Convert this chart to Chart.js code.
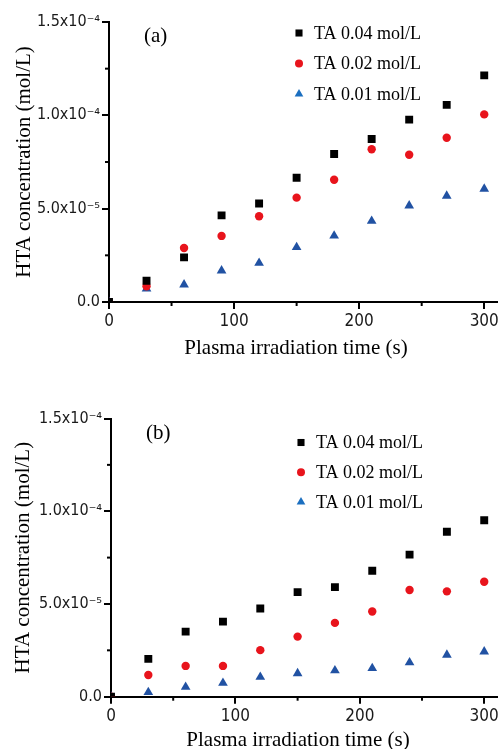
<!DOCTYPE html>
<html>
<head>
<meta charset="utf-8">
<script src="https://cdn.jsdelivr.net/npm/chart.js@4/dist/chart.umd.min.js"></script>
<style>
  html, body { margin: 0; padding: 0; background: #fff; }
  #wrap { position: relative; width: 503px; height: 749px; overflow: hidden; }
  .box { position: absolute; left: 0; width: 503px; }
</style>
</head>
<body>
<div id="wrap">
  <div class="box" style="top:0;height:375px"><canvas id="chartA"></canvas></div>
  <div class="box" style="top:375px;height:374px"><canvas id="chartB"></canvas></div>
</div>
<script>
// ---- data ----
const timeS = [0, 30, 60, 90, 120, 150, 180, 210, 240, 270, 300];
const seriesLabels = ['TA 0.04 mol/L', 'TA 0.02 mol/L', 'TA 0.01 mol/L'];
// panel (a)
const a_ta004 = [0, 1.14e-5, 2.39e-5, 4.64e-5, 5.28e-5, 6.66e-5, 7.93e-5, 8.73e-5, 9.77e-5, 1.056e-4, 1.214e-4];
const a_ta002 = [0, 0.84e-5, 2.89e-5, 3.54e-5, 4.59e-5, 5.59e-5, 6.55e-5, 8.18e-5, 7.89e-5, 8.80e-5, 1.005e-4];
const a_ta001 = [0, 0.71e-5, 0.93e-5, 1.68e-5, 2.09e-5, 2.93e-5, 3.55e-5, 4.34e-5, 5.16e-5, 5.68e-5, 6.06e-5];
// panel (b)
const b_ta004 = [0, 2.04e-5, 3.51e-5, 4.05e-5, 4.76e-5, 5.64e-5, 5.91e-5, 6.79e-5, 7.66e-5, 8.89e-5, 9.51e-5];
const b_ta002 = [0, 1.17e-5, 1.66e-5, 1.66e-5, 2.51e-5, 3.24e-5, 3.98e-5, 4.59e-5, 5.75e-5, 5.68e-5, 6.20e-5];
const b_ta001 = [0, 0.24e-5, 0.52e-5, 0.74e-5, 1.06e-5, 1.26e-5, 1.41e-5, 1.53e-5, 1.84e-5, 2.25e-5, 2.43e-5];
// axes
const xTickLabels = ['0', '100', '200', '300'];
const yTickLabels = ['0.0', '5.0x10\u207B\u2075', '1.0x10\u207B\u2074', '1.5x10\u207B\u2074'];
const xTitle = 'Plasma irradiation time (s)';
const yTitle = 'HTA concentration (mol/L)';

const SERIF = '"Liberation Serif", "Times New Roman", serif';
const TICKFONT = '"Liberation Sans Narrow", "DejaVu Sans Condensed", "Liberation Sans", Arial, sans-serif';

const styles = [
  { pointStyle: 'rect', color: '#000000', legendColor: '#000000', radius: 5.6, legendRadius: 5.0 },
  { pointStyle: 'circle', color: '#e8141c', legendColor: '#e8141c', radius: 4.2, legendRadius: 4.0 },
  { pointStyle: 'triangle', color: '#2152a3', legendColor: '#1b6fc0', radius: 5.6, legendRadius: 5.0 }
];

const decorPlugin = {
  id: 'decor',
  afterDraw(chart, args, o) {
    const { ctx, chartArea: ca, scales } = chart;
    const xs = scales.x, ys = scales.y;
    ctx.save();
    // minor ticks (shorter)
    ctx.strokeStyle = '#000';
    ctx.lineWidth = 2;
    xs.ticks.forEach((t, i) => {
      if (i % 2) {
        const px = xs.getPixelForValue(t.value);
        ctx.beginPath(); ctx.moveTo(px, ca.bottom); ctx.lineTo(px, ca.bottom + 4); ctx.stroke();
      }
    });
    ys.ticks.forEach((t, i) => {
      if (i % 2) {
        const py = ys.getPixelForValue(t.value);
        ctx.beginPath(); ctx.moveTo(ca.left - 4, py); ctx.lineTo(ca.left, py); ctx.stroke();
      }
    });
    // axis titles
    ctx.fillStyle = '#000';
    ctx.font = '21px ' + SERIF;
    ctx.textAlign = 'center';
    ctx.textBaseline = 'middle';
    ctx.fillText(o.xTitle, ca.left + o.xTitleDx, ca.bottom + o.xTitleDy);
    ctx.save();
    ctx.translate(o.yTitleX, (ca.top + ca.bottom) / 2);
    ctx.rotate(-Math.PI / 2);
    ctx.fillText(o.yTitle, 0, 0);
    ctx.restore();
    // panel label
    ctx.textAlign = 'left';
    ctx.fillText(o.panel, ca.left + o.panelDx, ca.top + o.panelDy);
    // legend inside plot area
    ctx.font = '18px ' + SERIF;
    chart.data.datasets.forEach((ds, i) => {
      const x = ca.left + o.legDx;
      const y = ca.top + o.legDy + i * o.legGap;
      ctx.fillStyle = ds.legendColor;
      Chart.helpers.drawPoint(ctx, { pointStyle: ds.pointStyle, radius: ds.legendRadius, rotation: 0, borderWidth: 0 }, x, y);
      ctx.fillStyle = '#000';
      ctx.fillText(ds.label, x + 15, y + 1);
    });
    ctx.restore();
  }
};

function makeChart(id, values, L) {
  const datasets = values.map((vals, i) => ({
    label: seriesLabels[i],
    data: timeS.map((t, k) => ({ x: t, y: vals[k] })),
    pointStyle: styles[i].pointStyle,
    pointRadius: styles[i].radius,
    pointHoverRadius: styles[i].radius,
    backgroundColor: styles[i].color,
    borderColor: styles[i].color,
    borderWidth: 0,
    legendColor: styles[i].legendColor,
    legendRadius: styles[i].legendRadius,
    showLine: false
  }));
  return new Chart(document.getElementById(id), {
    type: 'scatter',
    data: { datasets },
    plugins: [decorPlugin],
    options: {
      responsive: true,
      maintainAspectRatio: false,
      animation: false,
      events: [],
      layout: { padding: { top: L.padTop, right: L.padRight, left: 0, bottom: 0 } },
      plugins: {
        legend: { display: false },
        tooltip: { enabled: false },
        decor: {
          xTitle, yTitle, panel: L.panel,
          xTitleDx: 187, xTitleDy: L.xTitleDy, yTitleX: L.yTitleX,
          panelDx: 35, panelDy: L.panelDy,
          legDx: 190, legDy: L.legDy, legGap: L.legGap
        }
      },
      scales: {
        x: {
          type: 'linear', min: 0, max: 310,
          afterFit: s => { s.height = L.xHeight; },
          border: { display: true, color: '#000', width: 2 },
          grid: {
            display: true, drawOnChartArea: false, drawTicks: true, tickLength: 7,
            lineWidth: 2, tickWidth: 2,
            tickColor: c => (c.index % 2 ? 'rgba(0,0,0,0)' : '#000')
          },
          ticks: {
            stepSize: 50, includeBounds: false, autoSkip: false, maxRotation: 0,
            padding: 4, color: '#1a1a1a',
            font: { family: TICKFONT, size: 17, lineHeight: 1 },
            callback: (v, i) => (i % 2 ? '' : xTickLabels[i / 2])
          }
        },
        y: {
          type: 'linear', min: 0, max: 1.5e-4,
          afterFit: s => { s.width = L.yWidth; },
          border: { display: true, color: '#000', width: 2 },
          grid: {
            display: true, drawOnChartArea: false, drawTicks: true, tickLength: 7,
            lineWidth: 2, tickWidth: 2,
            tickColor: c => (c.index % 2 ? 'rgba(0,0,0,0)' : '#000')
          },
          ticks: {
            stepSize: 2.5e-5, includeBounds: false, autoSkip: false,
            padding: 2, color: '#1a1a1a',
            font: { family: TICKFONT, size: 16, lineHeight: 1 },
            callback: (v, i) => (i % 2 ? '' : yTickLabels[i / 2])
          }
        }
      }
    }
  });
}

makeChart('chartA', [a_ta004, a_ta002, a_ta001], {
  panel: '(a)', padTop: 22, padRight: 2, xHeight: 73, yWidth: 109,
  xTitleDy: 46, yTitleX: 24, panelDy: 14, legDy: 11, legGap: 30.5
});
makeChart('chartB', [b_ta004, b_ta002, b_ta001], {
  panel: '(b)', padTop: 43.5, padRight: 6, xHeight: 52.3, yWidth: 111,
  xTitleDy: 44, yTitleX: 23, panelDy: 15, legDy: 24, legGap: 29.8
});
</script>
</body>
</html>
